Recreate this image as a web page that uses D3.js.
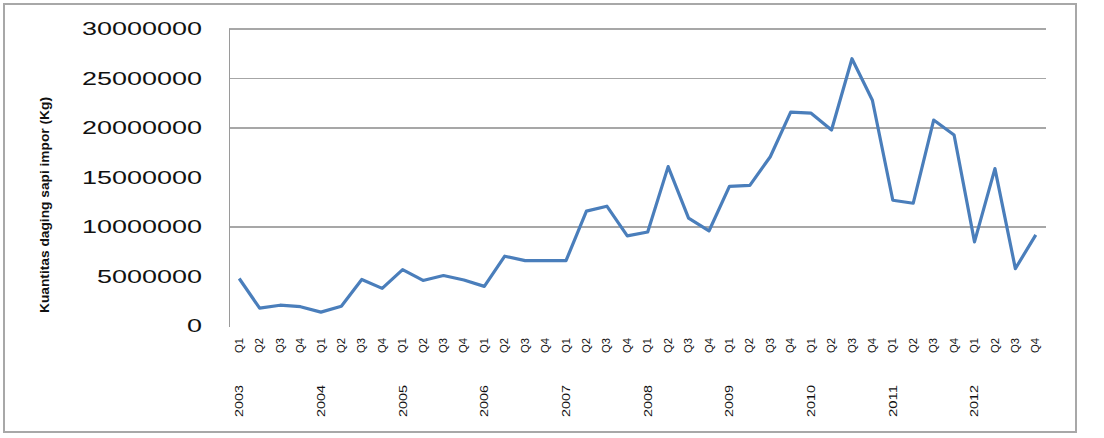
<!DOCTYPE html>
<html>
<head>
<meta charset="utf-8">
<script src="https://cdn.jsdelivr.net/npm/d3@7"></script>
<style>
  body { margin: 0; background: #fff; }
  svg { display: block; font-family: "Liberation Sans", Arial, sans-serif; }
</style>
</head>
<body>
<div id="graph"></div>
<script>
// données (kg, par trimestre)
var years = ["2003", "2004", "2005", "2006", "2007", "2008", "2009", "2010", "2011", "2012"];
var quarters = ["Q1", "Q2", "Q3", "Q4"];
var values = [
    4800000, 1800000, 2100000, 1950000,
    1400000, 2000000, 4700000, 3800000,
    5700000, 4600000, 5100000, 4650000,
    4000000, 7050000, 6600000, 6600000,
    6600000, 11600000, 12100000, 9100000,
    9500000, 16100000, 10900000, 9600000,
    14100000, 14200000, 17100000, 21600000,
    21500000, 19800000, 27000000, 22800000,
    12700000, 12400000, 20800000, 19300000,
    8500000, 15900000, 5800000, 9200000
];
var yTicks = [0, 5000000, 10000000, 15000000, 20000000, 25000000, 30000000];
var gridValues = [10000000, 20000000, 25000000, 30000000];

// un point par trimestre
var donnees = [];
years.forEach(function(yr, i) {
    quarters.forEach(function(q, j) {
        donnees.push({key: yr + "-" + q, year: yr, q: q, value: values[i * 4 + j]});
    });
});

var totalWidth = 1104, totalHeight = 438;

var x = d3.scaleBand()
    .domain(donnees.map(function(d) { return d.key; }))
    .range([229, 1046])
    .padding(0);
var y = d3.scaleLinear()
    .domain([0, 30000000])
    .range([326, 29]);
var cx = function(key) { return x(key) + x.bandwidth() / 2; };

var svg = d3.select("#graph").append("svg")
    .attr("width", totalWidth)
    .attr("height", totalHeight);

svg.append("rect")
    .attr("width", totalWidth)
    .attr("height", totalHeight)
    .attr("fill", "#fff");

// cadre
svg.append("rect")
    .attr("x", 4)
    .attr("y", 4)
    .attr("width", 1072)
    .attr("height", 428)
    .attr("fill", "none")
    .attr("stroke", "#a8a8a8")
    .attr("stroke-width", 2);

// grille
svg.selectAll(".grid")
    .data(gridValues)
    .enter().append("line")
    .attr("class", "grid")
    .attr("x1", 229)
    .attr("x2", 1046)
    .attr("y1", function(d) { return y(d); })
    .attr("y2", function(d) { return y(d); })
    .attr("stroke", function(d) { return d % 10000000 === 0 ? "#8a8a8a" : "#a6a6a6"; })
    .attr("stroke-width", function(d) { return d % 10000000 === 0 ? 1.6 : 1; });

// axe vertical
svg.append("line")
    .attr("x1", 229.5).attr("x2", 229.5)
    .attr("y1", y(30000000)).attr("y2", y(0) + 1)
    .attr("stroke", "#9a9a9a")
    .attr("stroke-width", 1);

// étiquettes de l'axe y
svg.selectAll(".ytick")
    .data(yTicks)
    .enter().append("text")
    .attr("class", "ytick")
    .attr("x", 202)
    .attr("y", function(d) { return y(d); })
    .attr("dy", "0.36em")
    .attr("text-anchor", "end")
    .attr("font-size", 18)
    .attr("fill", "#111")
    .attr("textLength", function(d) { return String(d).length * 15; })
    .attr("lengthAdjust", "spacingAndGlyphs")
    .text(function(d) { return d; });

// titre de l'axe y
svg.append("text")
    .attr("transform", "translate(45,205) rotate(-90)")
    .attr("text-anchor", "middle")
    .attr("dy", "0.36em")
    .attr("font-size", 12)
    .attr("font-weight", "bold")
    .attr("fill", "#111")
    .attr("textLength", 216)
    .attr("lengthAdjust", "spacingAndGlyphs")
    .text("Kuantitas daging sapi impor (Kg)");

// étiquettes des trimestres
svg.selectAll(".qtick")
    .data(donnees)
    .enter().append("text")
    .attr("class", "qtick")
    .attr("transform", function(d) { return "translate(" + cx(d.key) + ",353) rotate(-90)"; })
    .attr("dy", "0.36em")
    .attr("text-anchor", "start")
    .attr("font-size", 10)
    .attr("fill", "#111")
    .attr("textLength", 15)
    .attr("lengthAdjust", "spacingAndGlyphs")
    .text(function(d) { return d.q; });

// étiquettes des années
svg.selectAll(".yeartick")
    .data(years)
    .enter().append("text")
    .attr("class", "yeartick")
    .attr("transform", function(d) { return "translate(" + cx(d + "-Q1") + ",417) rotate(-90)"; })
    .attr("dy", "0.36em")
    .attr("text-anchor", "start")
    .attr("font-size", 11)
    .attr("fill", "#111")
    .attr("textLength", 32)
    .attr("lengthAdjust", "spacingAndGlyphs")
    .text(function(d) { return d; });

// la ligne des données
var ligne = d3.line()
    .x(function(d) { return cx(d.key); })
    .y(function(d) { return y(d.value); });
svg.append("path")
    .datum(donnees)
    .attr("fill", "none")
    .attr("stroke", "#4a7ebb")
    .attr("stroke-width", 3.2)
    .attr("stroke-linejoin", "round")
    .attr("d", ligne);
</script>
</body>
</html>
